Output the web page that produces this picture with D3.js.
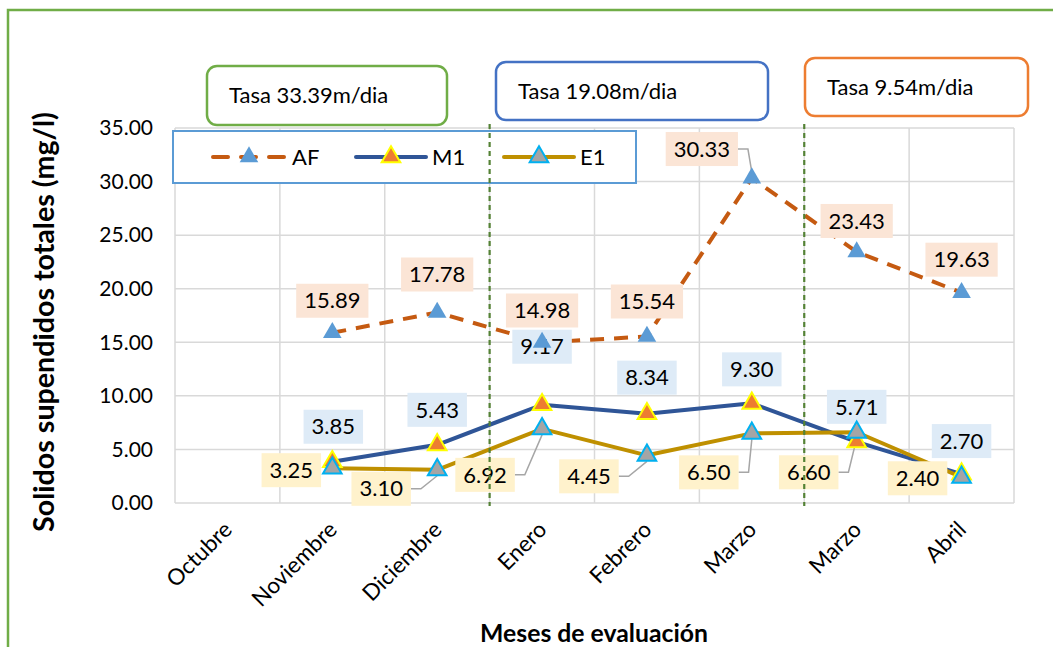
<!DOCTYPE html>
<html>
<head>
<meta charset="utf-8">
<script src="https://cdn.jsdelivr.net/npm/d3@7"></script>
<style>
  html, body { margin: 0; padding: 0; background: #fff; }
  svg { display: block; font-family: Lato, "Open Sans", sans-serif; }
</style>
</head>
<body>
<svg id="chart" width="1053" height="647"></svg>
<script>
// Months of evaluation (two separate March samplings)
const months = ["Octubre", "Noviembre", "Diciembre", "Enero", "Febrero", "Marzo", "Marzo", "Abril"];
// Total suspended solids (mg/l) per sampling point
const afValues = [null, 15.89, 17.78, 14.98, 15.54, 30.33, 23.43, 19.63];
const m1Values = [null, 3.85, 5.43, 9.17, 8.34, 9.30, 5.71, 2.70];
const e1Values = [null, 3.25, 3.10, 6.92, 4.45, 6.50, 6.60, 2.40];
const yTicks = [0, 5, 10, 15, 20, 25, 30, 35];
const rateLabels = ["Tasa 33.39m/dia", "Tasa 19.08m/dia", "Tasa 9.54m/dia"];

const svg = d3.select("#chart");
const W = 1053, H = 647;
const plot = { left: 175, right: 1014, top: 128, bottom: 503 };

// Outer frame
svg.append("rect").attr("x", 8).attr("y", 10).attr("width", W).attr("height", H)
  .attr("fill", "none").attr("stroke", "#70AD47").attr("stroke-width", 2.5);

const x = d3.scaleBand().domain(d3.range(months.length)).range([plot.left, plot.right]).padding(0);
const cx = i => x(i) + x.bandwidth() / 2;
const y = d3.scaleLinear().domain([0, 35]).range([plot.bottom, plot.top]);

// Gridlines
const grid = svg.append("g").attr("stroke", "#D9D9D9").attr("stroke-width", 1.5);
yTicks.forEach(t => grid.append("line").attr("x1", plot.left).attr("x2", plot.right)
  .attr("y1", y(t)).attr("y2", y(t)));
d3.range(months.length + 1).forEach(i => {
  const gx = i < months.length ? x(i) : plot.right;
  grid.append("line").attr("x1", gx).attr("x2", gx).attr("y1", plot.top).attr("y2", plot.bottom);
});

// Y axis tick labels
const yAxis = d3.axisLeft(y).tickValues(yTicks).tickFormat(d3.format(".2f")).tickSize(0).tickPadding(22);
const gy = svg.append("g").attr("transform", `translate(${plot.left},0)`).call(yAxis);
gy.select(".domain").remove();
gy.selectAll("text").attr("font-size", 21).attr("fill", "#000").attr("font-family", "Lato");

// X axis tick labels (rotated)
const gx = svg.append("g");
months.forEach((m, i) => {
  gx.append("text").attr("transform", `translate(${cx(i) + 6},${531}) rotate(-45)`)
    .attr("text-anchor", "end").attr("font-size", 22.5).attr("fill", "#000").text(m);
});

// Axis titles, fitted to their measured span
function fitText(sel, target) {
  const w = sel.node().getComputedTextLength();
  const fs = parseFloat(sel.attr("font-size"));
  sel.attr("font-size", fs * target / w);
}
const yTitle = svg.append("text").attr("transform", "translate(54,322) rotate(-90)")
  .attr("text-anchor", "middle").attr("font-size", 21).attr("font-weight", "bold")
  .text("Solidos supendidos totales (mg/l)");
fitText(yTitle, 420);
const xTitle = svg.append("text").attr("x", 594).attr("y", 642)
  .attr("text-anchor", "middle").attr("font-size", 21).attr("font-weight", "bold")
  .text("Meses de evaluación");
fitText(xTitle, 228);

// Legend
const legend = svg.append("g");
legend.append("rect").attr("x", 173).attr("y", 131).attr("width", 463).attr("height", 52)
  .attr("fill", "#fff").attr("stroke", "#5B9BD5").attr("stroke-width", 2);

// Rate annotation boxes
const rateBoxes = [
  { x0: 207, y0: 66, x1: 447, y1: 125, color: "#70AD47" },
  { x0: 496, y0: 62, x1: 768, y1: 120, color: "#4472C4" },
  { x0: 805, y0: 58, x1: 1028, y1: 116, color: "#ED7D31" }
];
rateBoxes.forEach((b, i) => {
  svg.append("rect").attr("x", b.x0).attr("y", b.y0).attr("width", b.x1 - b.x0).attr("height", b.y1 - b.y0)
    .attr("rx", 10).attr("fill", "#fff").attr("stroke", b.color).attr("stroke-width", 2.5);
  svg.append("text").attr("x", b.x0 + 22).attr("y", (b.y0 + b.y1) / 2).attr("dy", "0.35em")
    .attr("font-size", 22).attr("fill", "#000").text(rateLabels[i]);
});

// Period separators
const separators = svg.append("g");
[3, 6].forEach(i => {
  separators.append("line").attr("x1", x(i)).attr("x2", x(i)).attr("y1", 124).attr("y2", 506)
    .attr("stroke", "#548235").attr("stroke-width", 2.2).attr("stroke-dasharray", "5,4");
});

const series = [
  { name: "AF", values: afValues, line: "#C55A11", dash: "14,10", fill: "#5B9BD5", stroke: "#5B9BD5", sw: 0,
    bg: "#FBE5D6",
    offs: [null, [0, -32], [0, -38], [0, -32], [0, -35], [-50, -29, 1], [0, -31], [0, -33]] },
  { name: "M1", values: m1Values, line: "#2F5597", dash: null, fill: "#ED7D31", stroke: "#FFFF00", sw: 2,
    bg: "#DEEBF7",
    offs: [null, [1, -35], [0, -35], [0, -58], [0, -36], [0, -34], [0, -35], [0, -33]] },
  { name: "E1", values: e1Values, line: "#BF9000", dash: null, fill: "#A5A5A5", stroke: "#00B0F0", sw: 2,
    bg: "#FFF2CC",
    offs: [null, [-41, 2], [-56, 19, 1], [-57, 46, 1], [-58, 21, 1], [-43, 39, 1], [-48, 40, 1], [-44, 1]] }
];

const tri = d3.symbol().type(d3.symbolTriangle).size(150);
const lineGen = d3.line().defined(d => d.v != null).x(d => cx(d.i)).y(d => y(d.v));

// Lines
series.forEach(s => {
  const pts = s.values.map((v, i) => ({ i, v }));
  svg.append("path").datum(pts).attr("d", lineGen).attr("fill", "none")
    .attr("stroke", s.line).attr("stroke-width", 4)
    .attr("stroke-dasharray", s.dash).attr("stroke-linejoin", "round");
});

// Data labels with leader lines
const labelLayer = svg.append("g");
series.forEach(s => {
  s.values.forEach((v, i) => {
    if (v == null) return;
    const mx = cx(i), my = y(v);
    const [dx, dy, leader] = s.offs[i];
    const lx = mx + dx, ly = my + dy;
    const t = labelLayer.append("text").attr("x", lx).attr("y", ly).attr("dy", "0.35em")
      .attr("text-anchor", "middle").attr("font-size", 22).attr("fill", "#000").text(d3.format(".2f")(v));
    const w = t.node().getComputedTextLength() + 16, h = 34;
    labelLayer.insert("rect", () => t.node()).attr("x", lx - w / 2).attr("y", ly - h / 2)
      .attr("width", w).attr("height", h).attr("fill", s.bg);
    if (leader) {
      const bx = lx + w / 2;
      const ey = my + (ly < my ? -6 : 6);
      labelLayer.insert("path", ":first-child")
        .attr("d", `M${bx},${ly}H${bx + 10}L${mx},${ey}`)
        .attr("fill", "none").attr("stroke", "#A6A6A6").attr("stroke-width", 1.5);
    }
  });
});

// Markers
series.forEach(s => {
  svg.append("g").selectAll("path").data(s.values.map((v, i) => ({ i, v })).filter(d => d.v != null))
    .join("path").attr("d", tri).attr("transform", d => `translate(${cx(d.i)},${y(d.v)})`)
    .attr("fill", s.fill).attr("stroke", s.stroke).attr("stroke-width", s.sw);
});

// Legend entries
const legendItems = [{ x0: 213, x1: 285, tx: 292 }, { x0: 356, x1: 426, tx: 432 }, { x0: 504, x1: 574, tx: 580 }];
series.forEach((s, k) => {
  const it = legendItems[k], ly = 157;
  legend.append("line").attr("x1", it.x0).attr("x2", it.x1).attr("y1", ly).attr("y2", ly)
    .attr("stroke", s.line).attr("stroke-width", 4).attr("stroke-dasharray", s.name === "AF" ? "15,13" : null)
    .attr("stroke-linecap", "round");
  legend.append("path").attr("d", tri).attr("transform", `translate(${(it.x0 + it.x1) / 2},${ly})`)
    .attr("fill", s.fill).attr("stroke", s.stroke).attr("stroke-width", s.sw);
  legend.append("text").attr("x", it.tx).attr("y", ly).attr("dy", "0.35em")
    .attr("font-size", 22).attr("fill", "#000").text(s.name);
});
// keep the separators above the legend box
separators.raise();
</script>
</body>
</html>
